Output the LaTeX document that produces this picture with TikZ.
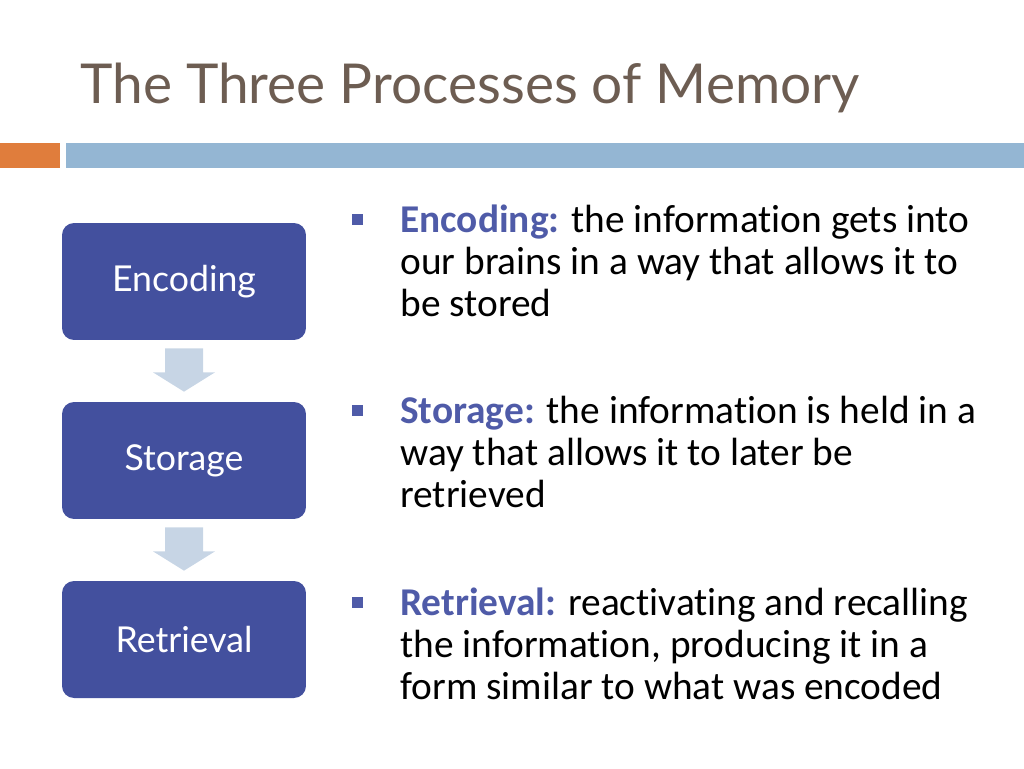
\documentclass[tikz,border=0pt]{standalone}
\usepackage{fontspec}
\setmainfont{Carlito}[Ligatures=NoCommon]
\newfontfamily\titlefont{Lato}
\usepackage{xcolor}
\usetikzlibrary{positioning,arrows.meta,calc}
\definecolor{TitleBrown}{HTML}{6D5D52}
\definecolor{BarOrange}{HTML}{E07D3C}
\definecolor{BarBlue}{HTML}{94B6D3}
\definecolor{BoxBlue}{HTML}{43509E}
\definecolor{ArrowBlue}{HTML}{C7D5E5}
\definecolor{KeyBlue}{HTML}{4F5BA8}
\begin{document}
\begin{tikzpicture}[x=0.02cm,y=-0.02cm,
    stepbox/.style={fill=BoxBlue, rounded corners=0.24cm, text=white,
      minimum width=4.88cm, minimum height=2.34cm,
      font=\titlefont\fontsize{20.3}{24}\selectfont},
    downarr/.style={fill=ArrowBlue},
    bullet/.style={fill=KeyBlue, minimum size=0.22cm, inner sep=0pt},
    bodytext/.style={anchor=base west, align=left, inner sep=0pt,
      font=\fontsize{22.4}{23.8}\selectfont}]
  \useasboundingbox (0,0) rectangle (1024,768);
  % title and bars
  \node[anchor=base west, inner sep=0pt, text=TitleBrown,
        font=\titlefont\fontsize{31.3}{38}\selectfont] (title) at (80,103)
    {The Three Processes of Memory};
  \fill[BarOrange] (0,143) rectangle (60,168);
  \fill[BarBlue] (66,143) rectangle (1024,168);
  % process boxes
  \node[stepbox] (enc) at (184,281.5) {Encoding};
  \node[stepbox] (sto) at (184,460.5) {Storage};
  \node[stepbox] (ret) at (184,639.5) {Retrieval};
  \foreach \a/\b in {enc/sto,sto/ret}
    \fill[downarr] ($(\a.south)+(-19,8)$) -- ($(\a.south)+(19,8)$)
      -- ($(\a.south)+(19,32)$) -- ($(\a.south)+(31,32)$)
      -- ($(\b.north)+(0,-10)$) -- ($(\a.south)+(-31,32)$)
      -- ($(\a.south)+(-19,32)$) -- cycle;
  % bullets (text anchored at its last baseline)
  \node[bullet] (b1) at (357,219) {};
  \node[bullet] (b2) at (357,410) {};
  \node[bullet] (b3) at (357,602) {};
  \node[bodytext] (t1) at (400,316)
    {\textbf{\textcolor{KeyBlue}{Encoding:}} the information gets into\\
     our brains in a way that allows it to\\ be stored};
  \node[bodytext] (t2) at (400,507)
    {\textbf{\textcolor{KeyBlue}{Storage:}} the information is held in a\\
     way that allows it to later be\\ retrieved};
  \node[bodytext] (t3) at (400,699)
    {\textbf{\textcolor{KeyBlue}{Retrieval:}} reactivating and recalling\\
     the information, producing it in a\\ form similar to what was encoded};
\end{tikzpicture}
\end{document}
